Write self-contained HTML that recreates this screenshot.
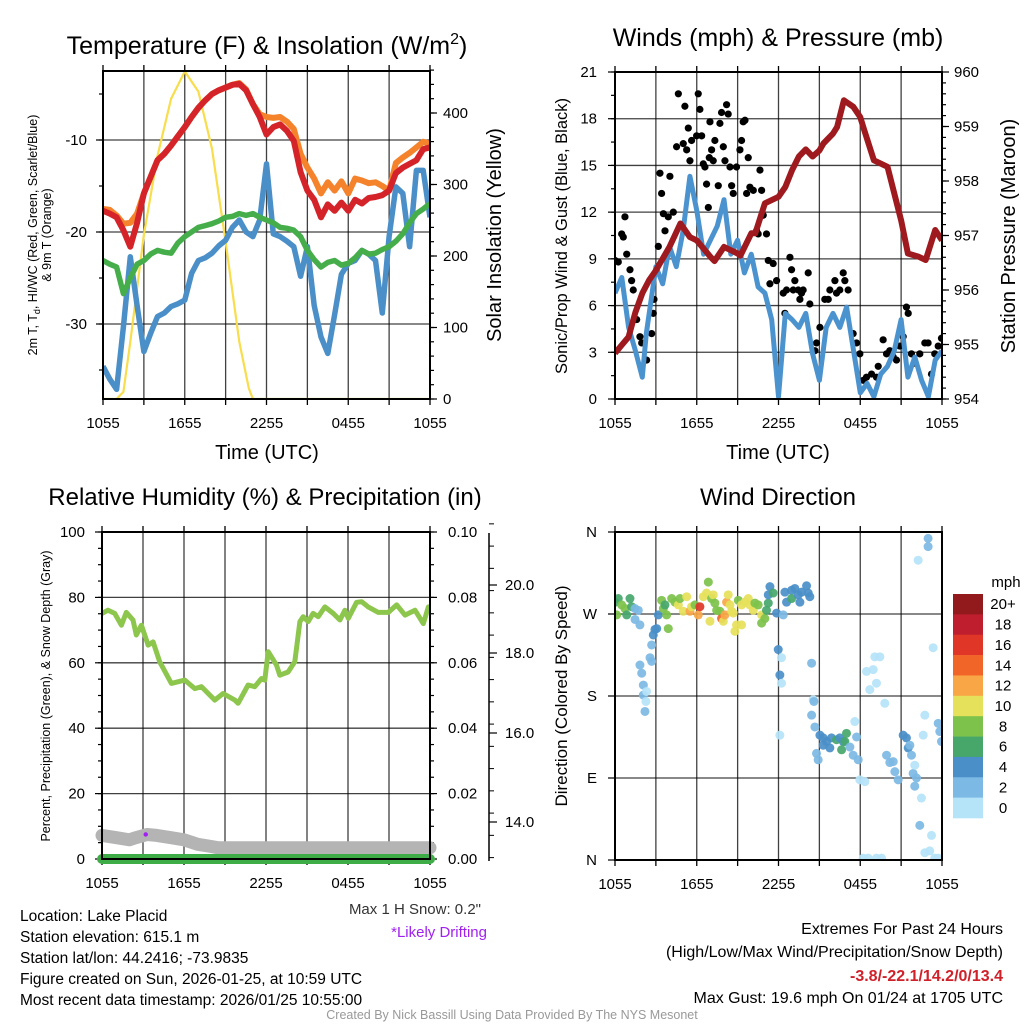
<!DOCTYPE html>
<html><head><meta charset="utf-8"><style>
html,body{margin:0;padding:0;background:#fff}
svg{display:block;font-family:"Liberation Sans",sans-serif}
</style></head><body>
<svg id="chart" width="1024" height="1024" viewBox="0 0 1024 1024" xmlns="http://www.w3.org/2000/svg">
<defs>
<clipPath id="c1"><rect x="103" y="71" width="327" height="328"/></clipPath>
<clipPath id="c2"><rect x="615" y="72" width="327" height="327"/></clipPath>
<clipPath id="c3"><rect x="102" y="532" width="328" height="327"/></clipPath>
<clipPath id="c4"><rect x="615" y="532" width="327" height="328"/></clipPath>
</defs>
<text x="267" y="54" font-size="25" text-anchor="middle">Temperature (F) &amp; Insolation (W/m<tspan font-size="16" dy="-10">2</tspan><tspan dy="10">)</tspan></text>
<text x="778" y="46" font-size="25" text-anchor="middle">Winds (mph) &amp; Pressure (mb)</text>
<text x="265" y="505" font-size="24" text-anchor="middle">Relative Humidity (%) &amp; Precipitation (in)</text>
<text x="778" y="505" font-size="24" text-anchor="middle">Wind Direction</text>

<text transform="translate(37,235) rotate(-90)" font-size="12.5" text-anchor="middle">2m T, T<tspan font-size="9" dy="3">d</tspan><tspan dy="-3">, HI/WC (Red, Green, Scarlet/Blue)</tspan></text>
<text transform="translate(51,235) rotate(-90)" font-size="12.5" text-anchor="middle">&amp; 9m T (Orange)</text>
<text transform="translate(501,235) rotate(-90)" font-size="20" text-anchor="middle">Solar Insolation (Yellow)</text>
<text x="267" y="459" font-size="20" text-anchor="middle">Time (UTC)</text>
<text transform="translate(567,236) rotate(-90)" font-size="16.5" text-anchor="middle">Sonic/Prop Wind &amp; Gust (Blue, Black)</text>
<text transform="translate(1015,236) rotate(-90)" font-size="20" text-anchor="middle">Station Pressure (Maroon)</text>
<text x="778" y="459" font-size="20" text-anchor="middle">Time (UTC)</text>
<text transform="translate(50,696) rotate(-90)" font-size="12.5" text-anchor="middle">Percent, Precipitation (Green), &amp; Snow Depth (Gray)</text>
<text transform="translate(567,696) rotate(-90)" font-size="17" text-anchor="middle">Direction (Colored By Speed)</text>

<text x="481" y="914" font-size="15" fill="#333" text-anchor="end">Max 1 H Snow: 0.2"</text>
<text x="487" y="937" font-size="15" fill="#a020f0" text-anchor="end">*Likely Drifting</text>

<g font-size="15.5">
<text x="20" y="921">Location: Lake Placid</text>
<text x="20" y="942">Station elevation: 615.1 m</text>
<text x="20" y="963">Station lat/lon: 44.2416; -73.9835</text>
<text x="20" y="984">Figure created on Sun, 2026-01-25, at 10:59 UTC</text>
<text x="20" y="1005">Most recent data timestamp: 2026/01/25 10:55:00</text>
</g>
<g font-size="16" text-anchor="end">
<text x="1003" y="934">Extremes For Past 24 Hours</text>
<text x="1003" y="957">(High/Low/Max Wind/Precipitation/Snow Depth)</text>
<text x="1003" y="981" fill="#d0202a" font-weight="bold">-3.8/-22.1/14.2/0/13.4</text>
<text x="1003" y="1003">Max Gust: 19.6 mph On 01/24 at 1705 UTC</text>
</g>
<text x="512" y="1019" font-size="12.5" fill="#999" text-anchor="middle">Created By Nick Bassill Using Data Provided By The NYS Mesonet</text>
<g id="dyn"></g>
</svg>
<script>
// ---- Temperature panel data (hours since 1055 UTC) ----
const tHours=[0,0.5,1,1.5,2,2.5,3,3.5,4,4.5,5,5.5,6,6.5,7,7.5,8,8.5,9,9.5,10,10.5,11,11.5,12,12.5,13,13.5,14,14.5,15,15.5,16,16.5,17,17.5,18,18.5,19,19.5,20,20.5,21,21.5,22,22.5,23,23.5,24];
const tempRed=[-17.7,-18.0,-18.4,-19.8,-21.6,-19.0,-15.8,-14.0,-12.2,-11.5,-10.6,-9.6,-8.6,-7.5,-6.5,-5.7,-5.0,-4.6,-4.3,-4.0,-3.9,-4.6,-6.1,-7.5,-9.4,-8.6,-8.3,-9.0,-10.1,-13.5,-15.5,-16.5,-18.4,-17.0,-17.7,-16.8,-17.7,-16.5,-16.9,-16.3,-16.2,-16.0,-15.5,-13.6,-13.0,-12.6,-12.2,-11.0,-10.8];
const tempOrange=[-17.5,-17.6,-18.2,-19.1,-19.0,-18.0,-15.8,-14.0,-12.2,-11.5,-10.6,-9.6,-8.6,-7.5,-6.5,-5.7,-5.0,-4.6,-4.3,-4.0,-3.8,-4.5,-6.1,-7.2,-7.5,-7.6,-7.5,-8.0,-8.8,-11.5,-13.0,-14.2,-15.8,-14.6,-15.5,-14.5,-15.8,-14.2,-14.4,-14.7,-14.6,-15.0,-15.5,-12.5,-11.9,-11.4,-10.8,-10.2,-10.4];
const tempGreen=[-23.1,-23.5,-23.8,-26.7,-25.0,-23.5,-23.1,-22.4,-22.0,-22.2,-22.3,-21.2,-20.5,-20.0,-19.5,-19.3,-19.1,-18.8,-18.4,-18.3,-18.0,-18.2,-18.0,-18.4,-18.7,-19.0,-19.5,-19.6,-19.8,-20.5,-22.0,-23.0,-23.8,-23.3,-23.1,-23.6,-23.4,-22.8,-22.0,-22.4,-22.3,-21.9,-21.6,-21.0,-20.2,-19.0,-18.0,-17.5,-16.9];
const tempBlue=[-34.6,-36.0,-37.1,-30.3,-22.7,-28.0,-33.0,-31.0,-29.2,-28.8,-28.1,-27.8,-27.4,-24.5,-23.1,-22.8,-22.3,-21.5,-20.9,-19.5,-18.7,-20.0,-20.5,-18.7,-12.6,-20.2,-20.5,-21.0,-21.6,-24.8,-21.6,-28.0,-31.4,-33.2,-29.0,-24.6,-23.4,-23.1,-22.0,-22.4,-23.1,-28.8,-20.5,-15.1,-15.8,-21.6,-13.3,-13.3,-18.4];
const solHours=[0,1,1.5,2,3,4,5,6,7,8,9,10,10.7,11,24];
const solValues=[0,0,10,80,230,340,420,458,430,350,220,80,15,0,0];
const xTickLabels=["1055","1655","2255","0455","1055"];
const tempTicks=[-30,-20,-10];
const solTicks=[0,100,200,300,400];

// ---- Wind panel data ----
const presHours=[0,0.5,1,1.5,2,2.5,3,4,4.8,5.5,6,7,7.3,8,9,9.2,10,10.3,11,12,12.5,13,13.5,14,14.5,15,15.3,16,16.3,16.8,17.5,18,18.3,19,19.5,20,20.5,21,21.5,22.3,22.8,23.5,24];
const presValues=[954.84,954.99,955.14,955.59,955.94,956.18,956.36,956.79,957.22,956.97,956.91,956.61,956.53,956.79,956.67,956.63,957.04,957.04,957.59,957.71,957.89,958.2,958.45,958.58,958.45,958.56,958.69,958.87,958.99,959.48,959.36,959.17,958.93,958.38,958.32,958.26,957.77,957.28,956.67,956.61,956.55,957.10,956.91];
const windHours=[0,0.5,1,1.5,2,2.3,3,3.5,4,4.5,5,5.5,6,6.5,7,7.5,8,8.5,9,9.5,10,10.5,11,11.5,12,12.5,13,13.5,14,14.5,15,15.5,16,16.5,17,18,18.5,19,19.5,20,20.5,21,21.5,22,22.5,23,23.5,24];
const windValues=[6.8,7.8,4.6,3.1,1.4,4.2,8.5,7.4,9.8,8.5,10.8,14.3,12.1,9.3,10.2,11.1,12.8,9.3,10.2,8.1,9.3,7.2,6.8,5.1,0.15,5.5,5.1,4.6,5.5,2.9,1.2,4.6,5.5,4.6,5.9,0.4,1.0,0.15,1.6,2.1,3.1,5.1,1.4,2.7,1.2,0.15,2.5,3.1];
const gustHours=[0,0.24,0.49,0.61,0.73,0.86,1.1,1.22,1.34,1.59,1.83,1.96,2.32,2.69,2.81,2.86,3.18,3.3,3.42,3.55,3.67,3.91,4.03,4.28,4.52,4.65,5.01,5.13,5.26,5.38,5.5,5.62,5.99,6.11,6.23,6.36,6.48,6.6,6.72,6.85,6.92,6.97,7.09,7.21,7.33,7.58,7.7,7.82,7.95,8.07,8.19,8.31,8.44,8.56,8.68,8.92,9.17,9.29,9.41,9.54,9.66,9.78,9.9,10.15,10.39,10.51,10.64,10.76,10.88,11.12,11.25,11.37,11.61,11.86,12.35,12.47,12.59,12.84,12.96,13.08,13.2,13.45,13.57,13.69,13.81,14.18,14.3,14.67,14.79,15.04,15.4,15.65,15.77,16.14,16.26,16.5,16.75,16.87,17.11,17.48,17.73,17.97,18.22,18.46,18.83,19.19,19.32,19.68,19.93,20.17,20.42,20.66,20.9,21.15,21.39,21.52,21.76,22.0,22.37,22.74,22.98,23.23,23.47,23.72,23.96];
const gustValues=[8.9,8.8,10.6,10.4,11.7,9.3,8.3,7.6,7.0,5.1,4.0,3.6,2.5,4.2,5.5,6.4,9.8,14.5,13.2,11.9,10.8,11.7,14.3,12.0,16.2,19.6,16.4,18.8,16.0,17.4,15.3,16.6,16.9,19.6,18.6,16.9,15.1,14.9,13.8,12.3,15.5,17.8,16.0,15.3,16.6,13.7,17.7,18.4,16.2,15.3,18.9,18.3,14.9,13.7,13.2,14.9,16.0,16.6,17.8,17.9,13.2,15.5,13.6,13.4,10.8,10.6,14.7,13.4,11.8,10.6,8.9,7.4,8.7,7.6,6.8,5.5,7.0,9.1,8.3,7.0,7.6,7.0,6.4,6.8,7.0,8.1,6.1,3.1,3.6,4.6,6.4,6.4,7.0,7.6,6.8,7.0,8.1,7.6,7.0,4.2,3.6,2.9,1.2,1.4,1.6,1.4,2.1,3.8,2.9,3.1,2.7,2.5,3.4,4.0,5.9,5.5,2.9,2.3,2.9,3.6,3.6,1.6,2.9,3.4,3.9];
const windTicks=[0,3,6,9,12,15,18,21];
const presTicks=[954,955,956,957,958,959,960];

// ---- RH / precip / snow ----
const rhHours=[0,0.44,0.93,1.42,1.78,2.27,2.51,2.88,3.37,3.74,4.22,5.08,6.06,6.79,7.28,8.25,8.86,9.72,9.96,10.69,11.18,11.67,11.91,12.16,12.77,13.01,13.62,14.11,14.48,14.72,15.09,15.45,15.82,16.31,16.92,17.41,17.77,18.02,18.63,19.0,19.48,20.22,20.95,21.56,22.17,22.9,23.51,23.88,24];
const rhValues=[75.1,76.1,75.1,71.5,75.4,73.1,68.5,71.5,65.4,66.4,60.3,53.7,54.7,52.1,52.7,48.6,50.6,48.6,47.6,53.2,52.7,55.2,54.7,63.4,59.3,56.2,57.2,60.3,72.6,74.1,72.6,75.1,74.1,77.1,75.1,73.1,76.1,73.6,78.5,78.7,77.1,75.4,75.4,77.7,74.6,76.1,72.0,77.1,76.5];
const snowHours=[0,1,2,2.5,3.3,4,5,6,7,8,8.5,24];
const snowValues=[13.7,13.65,13.6,13.65,13.72,13.7,13.65,13.6,13.5,13.45,13.42,13.42];
const precipHours=[0,24];
const precipValues=[0,0];
const driftHours=[3.2];
const driftSnow=[13.72];
const rhTicks=[0,20,40,60,80,100];
const precipTicks=["0.00","0.02","0.04","0.06","0.08","0.10"];
const snowTickLabels=["14.0","16.0","18.0","20.0"];
const snowTickY=[822,733,653,585];

// ---- Wind direction ----
const dirHours=[0,.24,.12,.49,.73,.86,1.1,1.22,1.47,1.71,1.47,1.83,2.93,2.81,3.06,2.69,2.57,1.83,1.96,2.08,2.08,2.32,2.27,2.2,2.69,3.18,3.42,3.55,3.79,3.91,3.67,4.16,4.4,4.65,4.77,5.01,5.26,5.5,5.62,5.87,6.11,6.23,6.48,6.72,6.85,6.97,7.09,7.21,7.33,7.46,7.7,7.82,7.95,8.07,8.19,8.31,8.44,8.56,8.68,8.8,8.92,9.29,9.05,9.29,9.54,9.78,9.9,10.15,10.27,10.51,10.76,10.76,11.0,11.12,11.25,11.37,11.25,11.61,11.86,12.35,11.98,12.22,12.1,12.22,12.47,12.59,12.96,13.2,12.96,13.45,13.57,13.69,14.06,14.18,14.3,14.43,14.55,14.6,14.43,14.67,12.1,15.04,15.28,15.53,15.77,15.89,16.26,16.5,16.75,16.99,16.87,16.63,17.24,17.48,17.73,17.85,17.6,14.79,14.91,15.28,17.97,18.34,18.46,18.95,19.07,19.44,18.7,19.19,19.8,19.93,20.17,20.42,20.54,20.78,21.15,21.39,21.52,21.64,21.76,21.88,22.0,22.13,22.0,22.49,22.37,23.23,22.74,23.1,23.47,23.72,22.62,22.74,23.35,22.25,22.98,22.98,23.72,23.84,23.96,18.22,18.58,19.19,19.56];
const dirDeg=[283,287,269,280,276,269,287,278,276,274,264,258,253,247,254,236,222,214,205,192,181,185,174,163,218,269,285,276,269,254,280,287,283,280,287,273,289,273,278,280,269,278,289,293,305,262,287,291,282,274,273,265,262,269,283,291,280,273,271,251,258,258,285,280,283,287,280,274,282,280,269,260,265,274,282,300,291,293,271,269,231,222,203,194,294,283,296,298,287,291,283,294,301,293,289,216,176,174,159,146,137,137,134,130,123,134,132,134,130,139,130,121,124,115,135,110,152,117,110,126,88,86,207,209,223,223,187,194,172,115,107,108,97,88,137,134,123,126,115,95,104,90,81,68,38,27,8,10,2,2,137,159,233,329,353,344,150,141,130,2,2,2,2];
const dirSpeed=[7,7,9,9,9,7,7,7,3,3,3,3,5,5,5,3,3,3,3,3,3,1,1,3,3,5,9,9,9,9,7,9,9,11,9,11,11,13,11,9,13,16,11,11,9,11,9,11,9,9,9,15,11,13,13,11,11,11,11,11,11,11,9,11,11,11,11,11,9,9,11,9,9,7,7,5,5,7,5,3,5,1,5,1,5,5,5,5,7,5,5,5,5,5,5,3,1,3,3,3,1,5,5,5,5,5,7,5,5,7,7,7,3,3,3,3,1,3,3,5,1,1,1,1,1,1,1,1,1,3,3,3,3,3,5,5,5,3,3,3,1,3,3,1,3,1,1,1,1,1,1,1,1,1,3,3,3,3,3,1,1,1,1];
const dirTickLabels=["N","E","S","W","N"];
const speedBinLabels=["20+","18","16","14","12","10","8","6","4","2","0"];
const speedBinColors=["#921a1d","#bf1e2e","#df3627","#f26529","#f9a746","#e6e15a","#7dc24b","#47a76b","#4a8fc8","#7cb9e4","#b5e3f8"];

const NS="http://www.w3.org/2000/svg";
const root=document.getElementById('dyn');
function mk(tag,attrs,parent){const e=document.createElementNS(NS,tag);for(const k in attrs)e.setAttribute(k,attrs[k]);(parent||root).appendChild(e);return e;}
function txt(x,y,s,size,anchor,parent){const t=mk('text',{x:x,y:y,'font-size':size,'text-anchor':anchor},parent);t.textContent=s;return t;}
function scale(d0,d1,r0,r1){return v=>r0+(v-d0)*(r1-r0)/(d1-d0);}
function pathFrom(xs,ys,fx,fy){return xs.map((h,i)=>(i?'L':'M')+fx(h).toFixed(1)+','+fy(ys[i]).toFixed(1)).join('');}
const TF=15;

function frame(x0,x1,y0,y1,grid,hgridYs,name){
  const g=mk('g',{});
  
  
  const fx=scale(0,24,x0,x1);
  for(let h=0;h<=24;h+=3){
    const x=fx(h);
    if(grid&&h>0&&h<24)mk('line',{x1:x,x2:x,y1:y0,y2:y1,stroke:'#000','stroke-width':1.3,'stroke-opacity':0.75},g);
    mk('line',{x1:x,x2:x,y1:y1,y2:y1+6,stroke:'#000','stroke-width':1.3},g);
    mk('line',{x1:x,x2:x,y1:y0,y2:y0-6,stroke:'#000','stroke-width':1.3},g);
  }
  hgridYs.forEach(y=>mk('line',{x1:x0,x2:x1,y1:y,y2:y,stroke:'#000','stroke-width':1.3,'stroke-opacity':0.75},g));
  [0,6,12,18,24].forEach((h,i)=>{txt(fx(h),y1+29,xTickLabels[i],TF,'middle',g);});
  return g;
}
function border(x0,x1,y0,y1,name){
  const r=mk('rect',{x:x0,y:y0,width:x1-x0,height:y1-y0,fill:'none',stroke:'#000','stroke-width':2});
  
  
}
function yTicks(x,ys,dir,len,g){ys.forEach(y=>mk('line',{x1:x,x2:x+dir*len,y1:y,y2:y,stroke:'#000','stroke-width':1.2},g));}

// ===== Panel 1 =====
{
const X0=103,X1=430,Y0=71,Y1=399;
const fx=scale(0,24,X0,X1), fy=scale(-10,-20,140,232), fs=scale(0,400,399,113);
const g=frame(X0,X1,Y0,Y1,true,tempTicks.map(fy),'temperature');
const minor=[];for(let v=-5;v>=-35;v-=5)minor.push(fy(v));
yTicks(X0,tempTicks.map(fy),-1,7,g);yTicks(X0,minor.filter(y=>y>Y0&&y<Y1),-1,4,g);
tempTicks.forEach(v=>txt(X0-16,fy(v)+5,String(v),TF,'end',g));
const sm=[];for(let v=0;v<=460;v+=20)sm.push(fs(v));
yTicks(X1,solTicks.map(fs),1,7,g);yTicks(X1,sm,1,4,g);
solTicks.forEach(v=>txt(X1+13,fs(v)+5,String(v),TF,'start',g));
const c=mk('g',{'clip-path':'url(#c1)'});
let p=mk('path',{d:pathFrom(solHours,solValues,fx,fs),fill:'none',stroke:'#f8dd4c','stroke-width':2.2},c);

p=mk('path',{d:pathFrom(tHours,tempBlue,fx,fy),fill:'none',stroke:'#4a8fc8','stroke-width':5.5,'stroke-linejoin':'round'},c);

p=mk('path',{d:pathFrom(tHours,tempGreen,fx,fy),fill:'none',stroke:'#45ae4a','stroke-width':5.5,'stroke-linejoin':'round'},c);

p=mk('path',{d:pathFrom(tHours,tempOrange,fx,fy),fill:'none',stroke:'#f4832c','stroke-width':6,'stroke-linejoin':'round'},c);

p=mk('path',{d:pathFrom(tHours,tempRed,fx,fy),fill:'none',stroke:'#d4242a','stroke-width':6,'stroke-linejoin':'round'},c);

border(X0,X1,Y0,Y1,'temperature');
}
// ===== Panel 2 =====
{
const X0=615,X1=942,Y0=72,Y1=399;
const fx=scale(0,24,X0,X1), fw=scale(0,21,Y1,Y0), fp=scale(954,960,Y1,Y0);
const g=frame(X0,X1,Y0,Y1,true,windTicks.slice(1,-1).map(fw),'winds');
const wm=[];for(let v=0;v<=21;v+=1.5)wm.push(fw(v));
yTicks(X0,windTicks.map(fw),-1,7,g);yTicks(X0,wm,-1,4,g);
windTicks.forEach(v=>txt(X0-18,fw(v)+5,String(v),TF,'end',g));
const pm=[];for(let v=954;v<=960;v+=0.2)pm.push(fp(v));
yTicks(X1,presTicks.map(fp),1,7,g);yTicks(X1,pm,1,4,g);
presTicks.forEach(v=>txt(X1+12,fp(v)+5,String(v),TF,'start',g));
const c=mk('g',{'clip-path':'url(#c2)'});
gustHours.forEach((h,i)=>{const d=mk('circle',{cx:fx(h),cy:fw(gustValues[i]),r:3.6,fill:'#000'},c);

});
let p=mk('path',{d:pathFrom(windHours,windValues,fx,fw),fill:'none',stroke:'#4b93cf','stroke-width':5,'stroke-linejoin':'round'},c);

p=mk('path',{d:pathFrom(presHours,presValues,fx,fp),fill:'none',stroke:'#9e1a1e','stroke-width':6,'stroke-linejoin':'round'},c);

border(X0,X1,Y0,Y1,'winds');
}
// ===== Panel 3 =====
{
const X0=102,X1=430,Y0=532,Y1=859;
const fx=scale(0,24,X0,X1), fr=scale(0,100,Y1,Y0), fsn=scale(14,16,822,733);
const g=frame(X0,X1,Y0,Y1,true,rhTicks.slice(1,-1).map(fr),'humidity');
const rm=[];for(let v=0;v<=100;v+=5)rm.push(fr(v));
yTicks(X0,rhTicks.map(fr),-1,7,g);yTicks(X0,rm,-1,4,g);
rhTicks.forEach(v=>txt(X0-17,fr(v)+5,String(v),TF,'end',g));
yTicks(X1,rhTicks.map(fr),1,7,g);yTicks(X1,rm,1,4,g);
precipTicks.forEach((s,i)=>txt(X1+18,fr(rhTicks[i])+5,s,TF,'start',g));
const sa=mk('line',{x1:489,x2:489,y1:533,y2:861,stroke:'#000','stroke-width':1.5});

for(let v=13.2;v<=20.8;v+=0.5)mk('line',{x1:489,x2:494,y1:fsn(v),y2:fsn(v),stroke:'#000','stroke-width':1});
snowTickLabels.forEach((s,i)=>{mk('line',{x1:489,x2:497,y1:snowTickY[i],y2:snowTickY[i],stroke:'#000','stroke-width':1.2});txt(505,snowTickY[i]+5,s,TF,'start');});
const c=mk('g',{'clip-path':'url(#c3)'});
let p=mk('path',{d:pathFrom(snowHours,snowValues,fx,fsn),fill:'none',stroke:'#b4b4b4','stroke-width':13,'stroke-linejoin':'round','stroke-linecap':'round'});

p=mk('path',{d:pathFrom(precipHours,precipValues,fx,v=>fr(v*1000)),fill:'none',stroke:'#3fad47','stroke-width':10,'stroke-linecap':'round'});

driftHours.forEach((h,i)=>{const d=mk('circle',{cx:fx(h),cy:fsn(driftSnow[i]),r:2.2,fill:'#a020f0'});

});
p=mk('path',{d:pathFrom(rhHours,rhValues,fx,fr),fill:'none',stroke:'#8dc64c','stroke-width':5,'stroke-linejoin':'round'},c);

border(X0,X1,Y0,Y1,'humidity');
}
// ===== Panel 4 =====
{
const X0=615,X1=942,Y0=532,Y1=860;
const fx=scale(0,24,X0,X1), fd=scale(0,360,Y1,Y0);
const g=frame(X0,X1,Y0,Y1,true,[90,180,270].map(fd),'direction');
[0,90,180,270,360].forEach((v,i)=>{yTicks(X0,[fd(v)],-1,7,g);txt(X0-18,fd(v)+5,dirTickLabels[i],TF,'end',g);});
const c=mk('g',{'clip-path':'url(#c4)'});
function binColor(s){let idx=Math.min(10,Math.floor(s/2));return speedBinColors[10-idx];}
dirHours.forEach((h,i)=>{const d=mk('circle',{cx:fx(h),cy:fd(dirDeg[i]),r:4.5,fill:binColor(dirSpeed[i]),'fill-opacity':0.92},c);

});
border(X0,X1,Y0,Y1,'direction');
const cb=mk('g',{});


const bh=(818-594)/11;
speedBinColors.forEach((col,i)=>{mk('rect',{x:953,y:594+i*bh,width:30,height:bh+0.3,fill:col},cb);txt(1003,594+i*bh+bh/2+5,speedBinLabels[i],TF,'middle',cb);});
txt(1006,587,'mph',TF,'middle',cb);
}
</script>
</body></html>
